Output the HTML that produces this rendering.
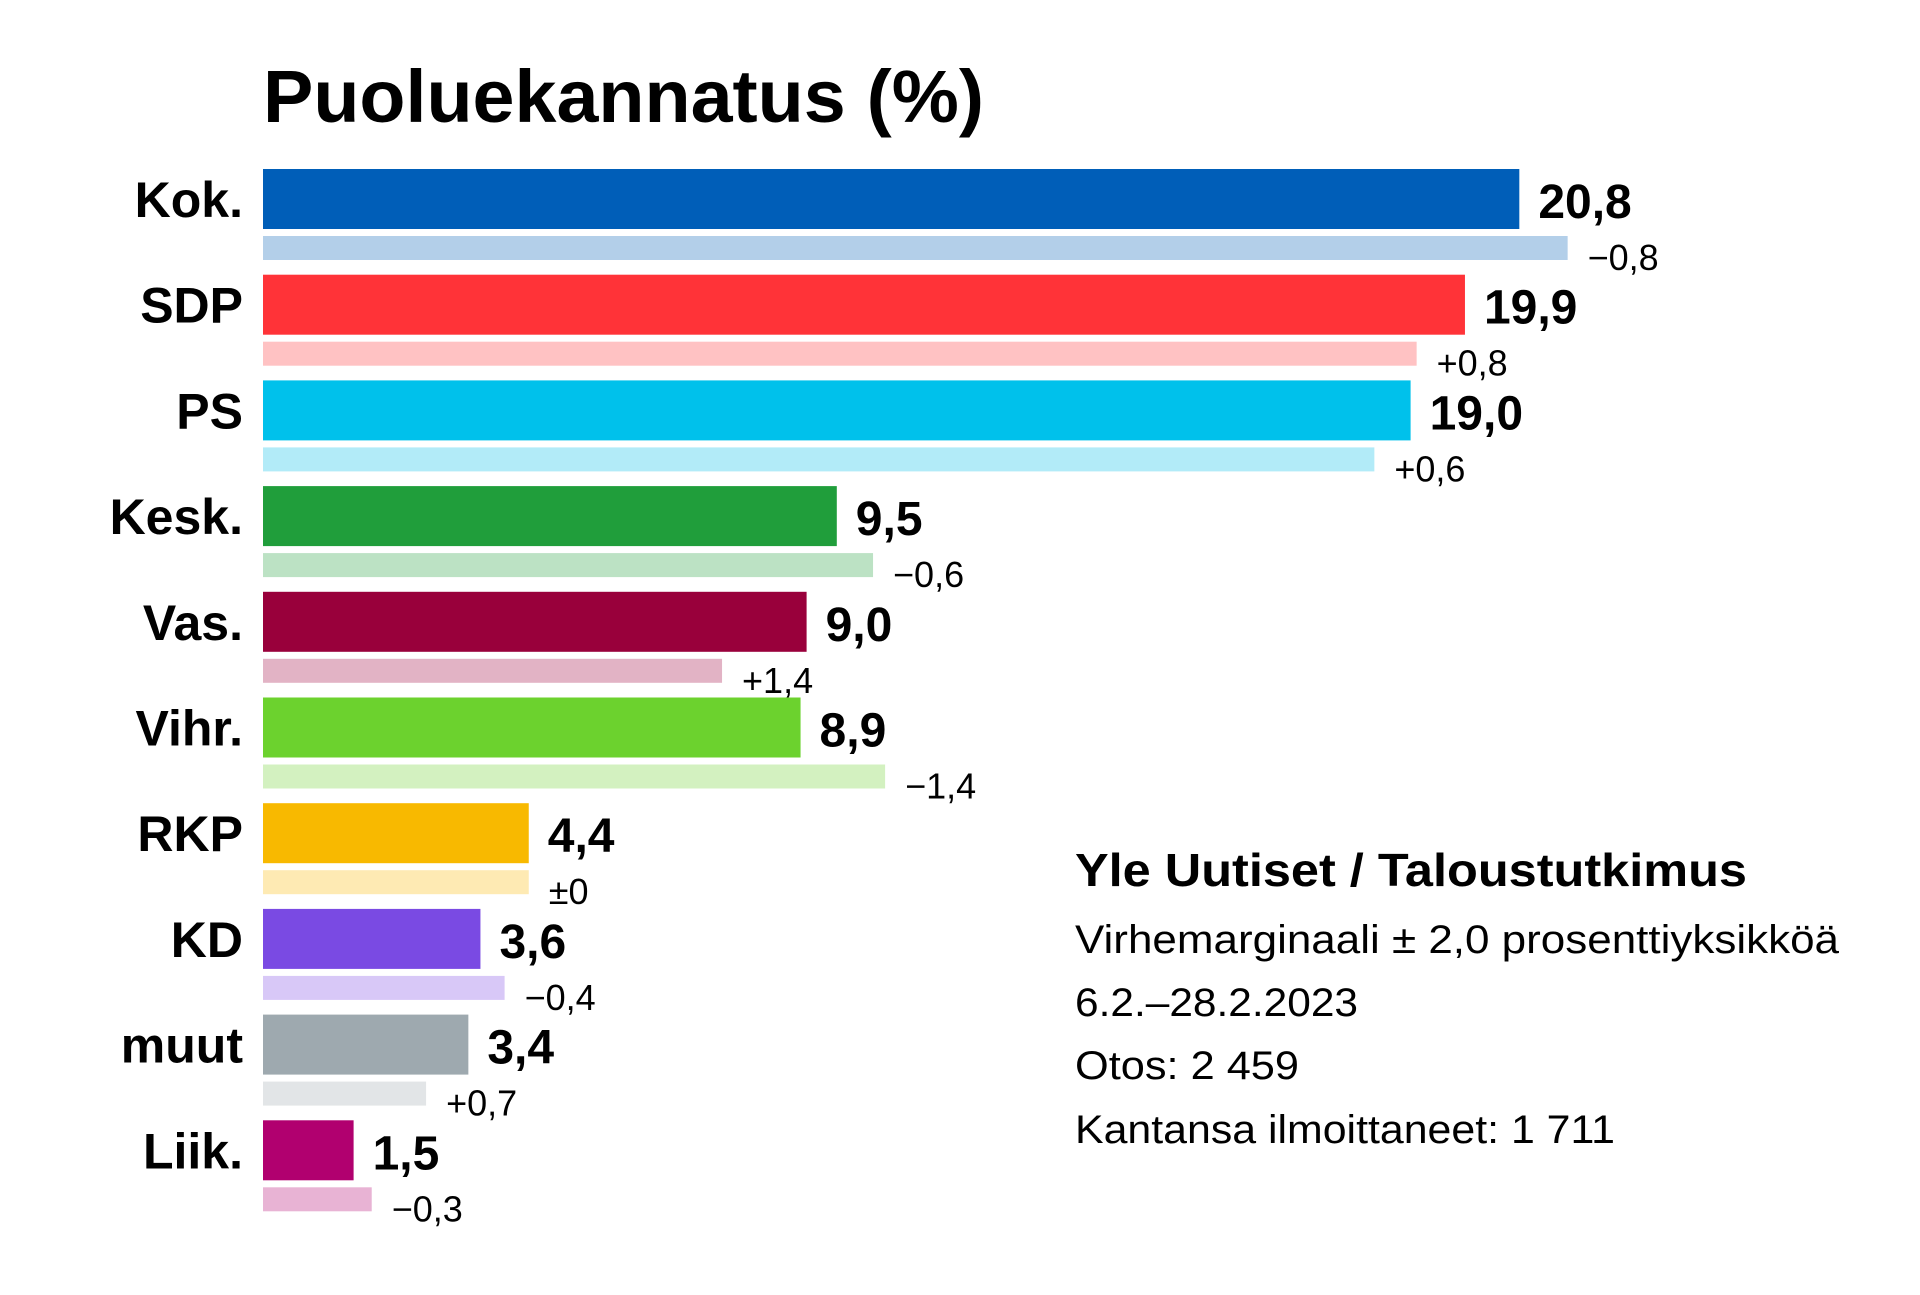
<!DOCTYPE html>
<html><head><meta charset="utf-8">
<style>
html,body{margin:0;padding:0;background:#fff;}
svg{display:block;font-family:"Liberation Sans",sans-serif;}
</style></head>
<body>
<svg id="chart" width="1920" height="1295" viewBox="0 0 1920 1295" xmlns="http://www.w3.org/2000/svg">
<rect width="1920" height="1295" fill="#fff"/>
<text x="263" y="122" font-size="74" font-weight="bold" textLength="721" lengthAdjust="spacingAndGlyphs" fill="#000">Puoluekannatus (%)</text>
<g id="bars"></g>
<g>
<text x="1075" y="886" font-size="46" font-weight="bold" textLength="672" lengthAdjust="spacingAndGlyphs">Yle Uutiset / Taloustutkimus</text>
<text x="1075" y="953" font-size="40" textLength="764" lengthAdjust="spacingAndGlyphs">Virhemarginaali ± 2,0 prosenttiyksikköä</text>
<text x="1075" y="1016" font-size="40" textLength="283" lengthAdjust="spacingAndGlyphs">6.2.–28.2.2023</text>
<text x="1075" y="1079" font-size="40" textLength="224" lengthAdjust="spacingAndGlyphs">Otos: 2 459</text>
<text x="1075" y="1143" font-size="40" textLength="540" lengthAdjust="spacingAndGlyphs">Kantansa ilmoittaneet: 1 711</text>
</g>
</svg>
<script>
const parties = ["Kok.","SDP","PS","Kesk.","Vas.","Vihr.","RKP","KD","muut","Liik."];
const values = [20.8,19.9,19.0,9.5,9.0,8.9,4.4,3.6,3.4,1.5];
const changes = [-0.8,0.8,0.6,-0.6,1.4,-1.4,0,-0.4,0.7,-0.3];
const colors = ["#005EB8","#FF3338","#00C1EB","#209E3B","#99003B","#6CD22E","#F8B900","#7A4AE3","#9EA9AF","#B1006F"];
const lightColors = ["#B3CFE9","#FFC2C3","#B2EBF8","#BCE2C4","#E2B3C5","#D3F1C0","#FEEAB3","#D8C8F7","#E2E5E7","#E8B3D4"];

const NS="http://www.w3.org/2000/svg";
const g=document.getElementById('bars');
const x0=263, pxPerUnit=60.4, top0=169, pitch=105.7;
const xs=v=>x0+v*pxPerUnit;
const ys=i=>top0+i*pitch;
const fmt=v=>v.toFixed(1).replace('.',',');
const fmtChange=c=>c===0?'±0':(c>0?'+':'−')+Math.abs(c).toFixed(1).replace('.',',');
function mk(tag,attrs){const e=document.createElementNS(NS,tag);for(const k in attrs)e.setAttribute(k,attrs[k]);g.appendChild(e);return e;}
parties.forEach((p,i)=>{
  const y=ys(i);
  const prev=values[i]-changes[i];
  const lab=mk('text',{x:243,y:y+48,'font-size':50,'font-weight':'bold','text-anchor':'end',fill:'#000'});
  lab.textContent=p;
  
  
  const bar=mk('rect',{x:x0,y:y,width:xs(values[i])-x0,height:60,fill:colors[i]});
  
  
  const val=mk('text',{x:xs(values[i])+19,y:y+49,'font-size':48,'font-weight':'bold',fill:'#000'});
  val.textContent=fmt(values[i]);
  
  
  const pb=mk('rect',{x:x0,y:y+67,width:xs(prev)-x0,height:24,fill:lightColors[i]});
  
  
  const ch=mk('text',{x:xs(prev)+20,y:y+101,'font-size':36,fill:'#000'});
  ch.textContent=fmtChange(changes[i]);
  
  
});
</script>
</body></html>
